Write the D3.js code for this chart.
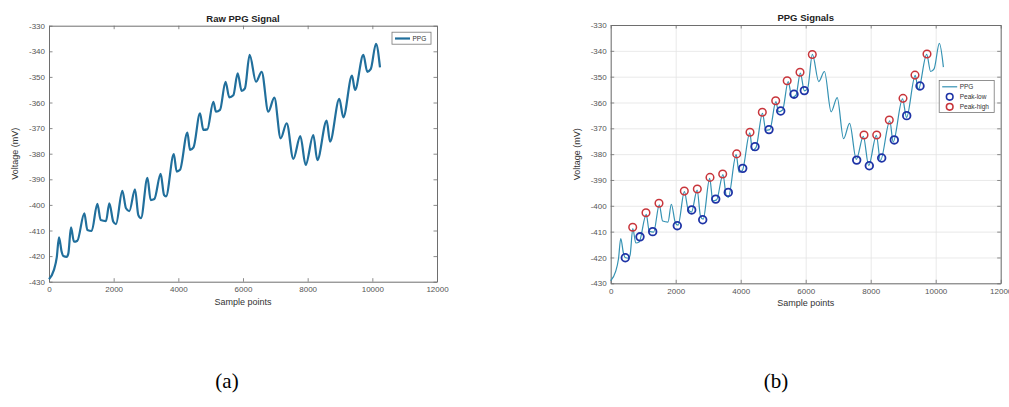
<!DOCTYPE html>
<html>
<head>
<meta charset="utf-8">
<script src="https://cdn.jsdelivr.net/npm/d3@7"></script>
<style>
    body { margin: 0; background: #fff; }
    svg { display: block; }
</style>
</head>
<body>
<div class="vis"></div>
<script>
// signal (sample index, mV)
const ppgSample = [0, 150, 240, 309, 392, 443, 546, 598, 680, 773, 876, 1093, 1186, 1320, 1495, 1598, 1763, 1866,
    1990, 2072, 2268, 2381, 2485, 2660, 2763, 2845, 3045, 3144, 3258, 3454, 3557, 3619, 3860, 3949, 4052,
    4280, 4361, 4470, 4670, 4773, 4897, 5082, 5165, 5289, 5460, 5577, 5701, 5835, 5959, 6060, 6206, 6402,
    6577, 6783, 6969, 7165, 7351, 7557, 7773, 7938, 8175, 8299, 8588, 8691, 8979, 9103, 9371, 9464, 9722,
    9845, 9950, 10113, 10237];
const ppgVoltage = [-429, -425.5, -420.5, -412.7, -418.3, -420, -420.3, -419, -408.8, -414.4, -414, -403.3, -409.8,
    -410.2, -399.6, -405.9, -406.3, -399.4, -406.6, -407.5, -394.5, -401.3, -402.4, -393.9, -404, -405.2,
    -389.4, -398.1, -397.7, -387.9, -396.1, -396.7, -380.2, -387, -386.3, -371.8, -378.5, -377.5, -364.2,
    -370.7, -370.5, -359.7, -363.6, -362.9, -351.9, -358, -357.2, -348.6, -355.5, -354.5, -341.4, -351.9,
    -348, -363.6, -358.1, -374, -368.1, -382, -373.1, -384.4, -372.7, -382.5, -367.1, -375.3, -358.6,
    -365.8, -349.5, -355.1, -341.4, -348, -347, -337.1, -346.3];

// detected peaks (b)
const peakHighSample = [677, 1086, 1486, 2265, 2665, 3055, 3446, 3877, 4286, 4665, 5077, 5430, 5825, 6203,
    7794, 8185, 8572, 8994, 9363, 9732];
const peakHighVoltage = [-408.3, -402.7, -399, -394.3, -393.5, -389, -387.7, -379.9, -371.5, -363.8, -359.3,
    -351.6, -348.3, -341.4, -372.6, -372.6, -366.8, -358.4, -349.4, -341.2];
const peakLowSample = [449, 902, 1292, 2049, 2492, 2831, 3231, 3618, 4062, 4440, 4871, 5231, 5640, 5957,
    7569, 7957, 8338, 8726, 9108, 9517];
const peakLowVoltage = [-420.1, -412, -410, -407.7, -401.6, -405.4, -397.4, -394.8, -385.5, -377.1, -370.5,
    -363.3, -356.8, -355.4, -382.3, -384.5, -381.5, -374.5, -365.1, -353.6];

const xTicks = [0, 2000, 4000, 6000, 8000, 10000, 12000];
const yTicks = [-330, -340, -350, -360, -370, -380, -390, -400, -410, -420, -430];

const width = 1009,
    height = 407,
    font = 'Liberation Sans, Arial, Helvetica, sans-serif';

let svg = d3.select(".vis")
    .append("svg")
    .attr("width", width)
    .attr("height", height)
    .style("background", "#fff")

let ppg = ppgSample.map((s, i) => ({s: s, v: ppgVoltage[i]}));
let highs = peakHighSample.map((s, i) => ({s: s, v: peakHighVoltage[i]}));
let lows = peakLowSample.map((s, i) => ({s: s, v: peakLowVoltage[i]}));

function drawPanel(cfg) {
    let x = d3.scaleLinear().domain([0, 12000]).range([0, cfg.w]),
        y = d3.scaleLinear().domain([-430, -330]).range([cfg.h, 0]);

    let g = svg.append('g')
        .attr('id', cfg.id)
        .attr("transform", "translate(" + cfg.left + " " + cfg.top + ")")

    if (cfg.grid) {
        g.append('g')
            .attr('class', 'grid')
            .attr("transform", "translate(0 " + cfg.h + ")")
            .call(d3.axisBottom(x).tickValues(xTicks).tickSize(-cfg.h).tickFormat(''))
        g.append('g')
            .attr('class', 'grid')
            .call(d3.axisLeft(y).tickValues(yTicks).tickSize(-cfg.w).tickFormat(''))
        g.selectAll('.grid path').remove()
        g.selectAll('.grid line').style('stroke', '#e3e3e3').style('stroke-width', 0.8)
    }

    // axes, matlab style: ticks inside on all four sides
    let fmt = d => String(d);
    g.append('g').attr('class', 'ax')
        .attr("transform", "translate(0 " + cfg.h + ")")
        .call(d3.axisBottom(x).tickValues(xTicks).tickSizeInner(-3.5).tickSizeOuter(0).tickPadding(5).tickFormat(fmt))
    g.append('g').attr('class', 'ax')
        .call(d3.axisTop(x).tickValues(xTicks).tickSizeInner(-3.5).tickSizeOuter(0).tickFormat(''))
    g.append('g').attr('class', 'ax')
        .call(d3.axisLeft(y).tickValues(yTicks).tickSizeInner(-3.5).tickSizeOuter(0).tickPadding(4).tickFormat(fmt))
    g.append('g').attr('class', 'ax')
        .attr("transform", "translate(" + cfg.w + " 0)")
        .call(d3.axisRight(y).tickValues(yTicks).tickSizeInner(-3.5).tickSizeOuter(0).tickFormat(''))

    g.selectAll('.ax path').style('stroke', '#6e6e6e').style('stroke-width', 1)
    g.selectAll('.ax line').style('stroke', '#6e6e6e').style('stroke-width', 0.8)
    g.selectAll('.ax text')
        .style('font-family', font)
        .style('font-size', '8px')
        .style('fill', '#555')

    let line = d3.line()
        .x(d => x(d.s))
        .y(d => y(d.v))
        .curve(d3.curveMonotoneX)

    g.append('path')
        .datum(ppg)
        .attr('d', line)
        .style('fill', 'none')
        .style('stroke', cfg.lineColor)
        .style('stroke-width', cfg.lineWidth)
        .style('stroke-linejoin', 'round')

    if (cfg.markers) {
        g.selectAll('.low').data(lows).enter()
            .append('circle')
            .attr('class', 'low')
            .attr('cx', d => x(d.s))
            .attr('cy', d => y(d.v))
            .attr('r', 3.8)
            .style('fill', 'none')
            .style('stroke', '#1e33a6')
            .style('stroke-width', 1.8)
        g.selectAll('.high').data(highs).enter()
            .append('circle')
            .attr('class', 'high')
            .attr('cx', d => x(d.s))
            .attr('cy', d => y(d.v))
            .attr('r', 3.8)
            .style('fill', 'none')
            .style('stroke', '#c8353b')
            .style('stroke-width', 1.5)
    }

    g.append("text")
        .attr("x", cfg.w / 2)
        .attr("y", -4)
        .text(cfg.title)
        .style('font-size', '9.5px')
        .style('font-family', font)
        .style('font-weight', 'bold')
        .style('fill', '#222')
        .style('text-anchor', "middle")

    g.append("text")
        .attr("x", cfg.w / 2)
        .attr("y", cfg.h + 23)
        .text("Sample points")
        .style('font-size', '9px')
        .style('font-family', font)
        .style('fill', '#333')
        .style('text-anchor', "middle")

    g.append("text")
        .attr("transform", "translate(" + (-31) + " " + (cfg.h / 2) + ") rotate(-90)")
        .text("Voltage (mV)")
        .style('font-size', '9px')
        .style('font-family', font)
        .style('fill', '#333')
        .style('text-anchor', "middle")

    // legend
    let lg = g.append('g')
        .attr("transform", "translate(" + cfg.legend.x + " " + cfg.legend.y + ")")
    lg.append('rect')
        .attr('width', cfg.legend.w)
        .attr('height', cfg.legend.h)
        .style('fill', '#fff')
        .style('stroke', '#777')
        .style('stroke-width', 0.8)
    cfg.legend.items.forEach((item, i) => {
        let cy = 6.3 + i * 10;
        if (item.type === 'line') {
            lg.append('line')
                .attr('x1', 3).attr('x2', 18)
                .attr('y1', cy).attr('y2', cy)
                .style('stroke', cfg.lineColor)
                .style('stroke-width', cfg.lineWidth)
        } else {
            lg.append('circle')
                .attr('cx', 10.5).attr('cy', cy)
                .attr('r', 3.3)
                .style('fill', 'none')
                .style('stroke', item.color)
                .style('stroke-width', 1.6)
        }
        lg.append('text')
            .attr('x', 20.5)
            .attr('y', cy + 2.3)
            .text(item.label)
            .style('font-size', '6.5px')
            .style('font-family', font)
            .style('fill', '#333')
    })
}

drawPanel({
    id: 'panelA', left: 49, top: 25.7, w: 388, h: 256,
    title: 'Raw PPG Signal', grid: false, markers: false,
    lineColor: '#216f9c', lineWidth: 2.2,
    legend: {x: 343, y: 6.5, w: 39, h: 12, items: [{type: 'line', label: 'PPG'}]}
})

drawPanel({
    id: 'panelB', left: 610.7, top: 25, w: 390, h: 258.3,
    title: 'PPG Signals', grid: true, markers: true,
    lineColor: '#3592b3', lineWidth: 1.2,
    legend: {x: 328.5, y: 55.5, w: 55, h: 32, items: [
        {type: 'line', label: 'PPG'},
        {type: 'circle', label: 'Peak-low', color: '#1e33a6'},
        {type: 'circle', label: 'Peak-high', color: '#c8353b'}
    ]}
})

/* panel captions */
svg.append("text")
    .attr("x", 227)
    .attr("y", 388)
    .text("(a)")
    .style('font-size', '21px')
    .style('font-family', 'Liberation Serif, Times New Roman, serif')
    .style('fill', '#000')
    .style('text-anchor', "middle")

svg.append("text")
    .attr("x", 776)
    .attr("y", 388)
    .text("(b)")
    .style('font-size', '21px')
    .style('font-family', 'Liberation Serif, Times New Roman, serif')
    .style('fill', '#000')
    .style('text-anchor', "middle")
</script>
</body>
</html>
